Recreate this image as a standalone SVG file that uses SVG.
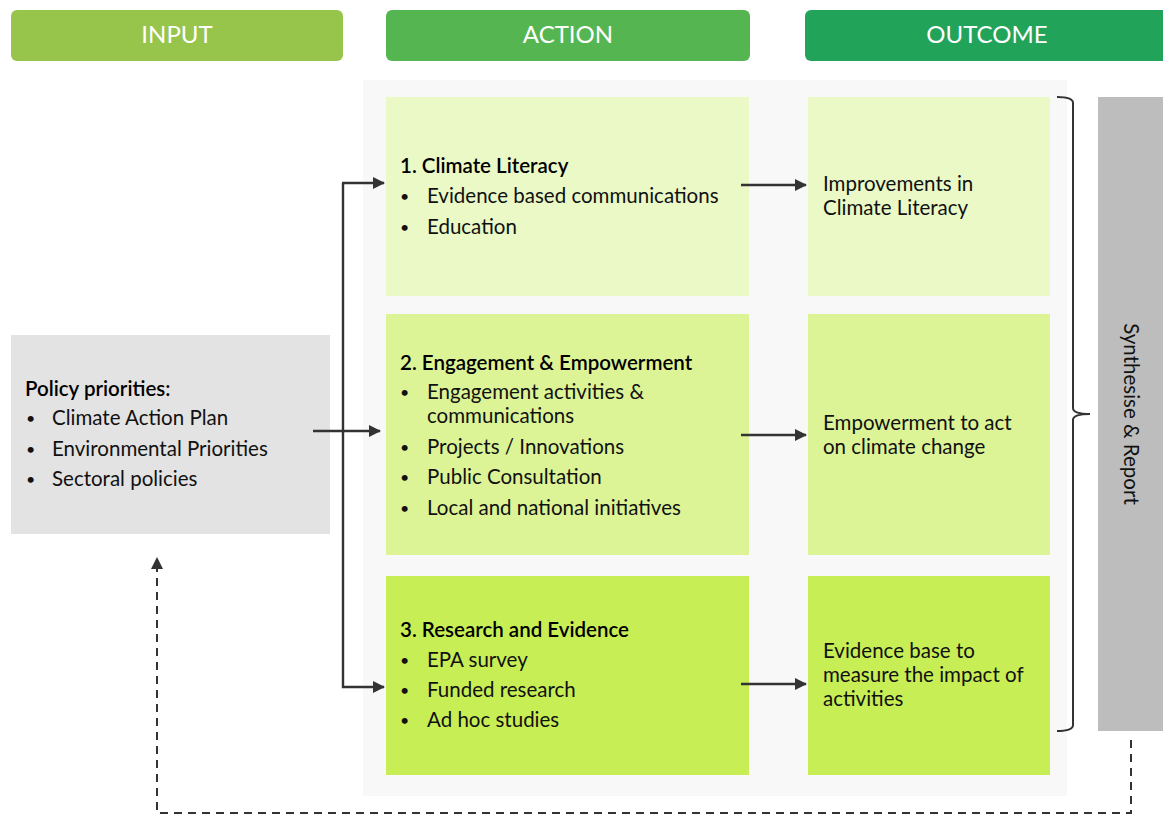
<svg xmlns="http://www.w3.org/2000/svg" width="1163" height="816" viewBox="0 0 1163 816">
<defs>
<marker id="ah" markerWidth="12" markerHeight="12" refX="11" refY="6" orient="auto" markerUnits="userSpaceOnUse"><path d="M0,0 L12,6 L0,12 Z" fill="#333"/></marker>
</defs>
<style>
.hd{font-family:Lato,"Noto Sans",sans-serif;font-size:24px;fill:#fff;text-anchor:middle}
.t{font-family:Lato,"Noto Sans",sans-serif;font-size:20.5px;fill:#111}
.d{font-family:Lato,"Noto Sans",sans-serif;font-size:16px;fill:#111}
.b{font-family:Lato,"Noto Sans",sans-serif;font-size:20.5px;fill:#000;font-weight:600}
.ln{stroke:#333;stroke-width:2.4;fill:none}
.ds{stroke:#333;stroke-width:2;fill:none;stroke-dasharray:8,6}
</style>
<rect width="1163" height="816" fill="#fff"/>
<rect x="363" y="80" width="704" height="716" fill="#f8f8f8"/>
<g id="h-input"><rect x="11" y="10" width="332" height="51" rx="6" fill="#97c44b"/><text class="hd" x="177" y="43">INPUT</text></g>
<g id="h-action"><rect x="386" y="10" width="364" height="51" rx="6" fill="#55b651"/><text class="hd" x="568" y="43">ACTION</text></g>
<g id="h-outcome"><rect x="805" y="10" width="370" height="51" rx="6" fill="#22a35a"/><text class="hd" x="987" y="43">OUTCOME</text></g>
<g id="input"><rect x="11" y="335" width="319" height="199" fill="#e3e3e3"/>
<text class="b" x="25" y="396">Policy priorities:</text>
<text class="d" x="26" y="424">•</text><text class="t" x="52" y="425">Climate Action Plan</text>
<text class="d" x="26" y="455">•</text><text class="t" x="52" y="456">Environmental Priorities</text>
<text class="d" x="26" y="485">•</text><text class="t" x="52" y="486">Sectoral policies</text></g>
<g id="a1"><rect x="386" y="97" width="363" height="199" fill="#eaf9c6"/>
<text class="b" x="400" y="173">1. Climate Literacy</text>
<text class="d" x="400" y="202">•</text><text class="t" x="427" y="203">Evidence based communications</text>
<text class="d" x="400" y="233">•</text><text class="t" x="427" y="234">Education</text></g>
<g id="a2"><rect x="386" y="314" width="363" height="241" fill="#dcf496"/>
<text class="b" x="400" y="370">2. Engagement &amp; Empowerment</text>
<text class="d" x="400" y="398">•</text><text class="t" x="427" y="399">Engagement activities &amp;</text>
<text class="t" x="427" y="423">communications</text>
<text class="d" x="400" y="453">•</text><text class="t" x="427" y="454">Projects / Innovations</text>
<text class="d" x="400" y="483">•</text><text class="t" x="427" y="484">Public Consultation</text>
<text class="d" x="400" y="514">•</text><text class="t" x="427" y="515">Local and national initiatives</text></g>
<g id="a3"><rect x="386" y="576" width="363" height="199" fill="#c8ee55"/>
<text class="b" x="400" y="637">3. Research and Evidence</text>
<text class="d" x="400" y="666">•</text><text class="t" x="427" y="667">EPA survey</text>
<text class="d" x="400" y="696">•</text><text class="t" x="427" y="697">Funded research</text>
<text class="d" x="400" y="726">•</text><text class="t" x="427" y="727">Ad hoc studies</text></g>
<g id="o1"><rect x="808" y="97" width="242" height="199" fill="#eaf9c6"/>
<text class="t" x="823" y="191">Improvements in</text><text class="t" x="823" y="215">Climate Literacy</text></g>
<g id="o2"><rect x="808" y="314" width="242" height="241" fill="#dcf496"/>
<text class="t" x="823" y="430">Empowerment to act</text><text class="t" x="823" y="454">on climate change</text></g>
<g id="o3"><rect x="808" y="576" width="242" height="199" fill="#c8ee55"/>
<text class="t" x="823" y="658">Evidence base to</text><text class="t" x="823" y="682">measure the impact of</text><text class="t" x="823" y="706">activities</text></g>
<g id="synth"><rect x="1098" y="97" width="65" height="634" fill="#bdbdbd"/>
<text class="t" transform="translate(1124,414) rotate(90)" text-anchor="middle">Synthesise &amp; Report</text></g>
<g id="connectors">
<path class="ln" d="M313,431 H380" marker-end="url(#ah)"/>
<path class="ln" d="M343,183 V687 H384" marker-end="url(#ah)"/>
<path class="ln" d="M342,183 H384" marker-end="url(#ah)"/>
<path class="ln" d="M741,185 H806" marker-end="url(#ah)"/>
<path class="ln" d="M741,435 H806" marker-end="url(#ah)"/>
<path class="ln" d="M741,684 H806" marker-end="url(#ah)"/>
<path class="ln" d="M1057,97 Q1073,97 1073,103 V408 Q1073,414 1090,414 Q1073,414 1073,420 V725 Q1073,731 1057,731" style="stroke-width:2"/>
<path class="ds" d="M1131,740 V813 H157 V558" marker-end="url(#ah)"/>
</g>
</svg>
